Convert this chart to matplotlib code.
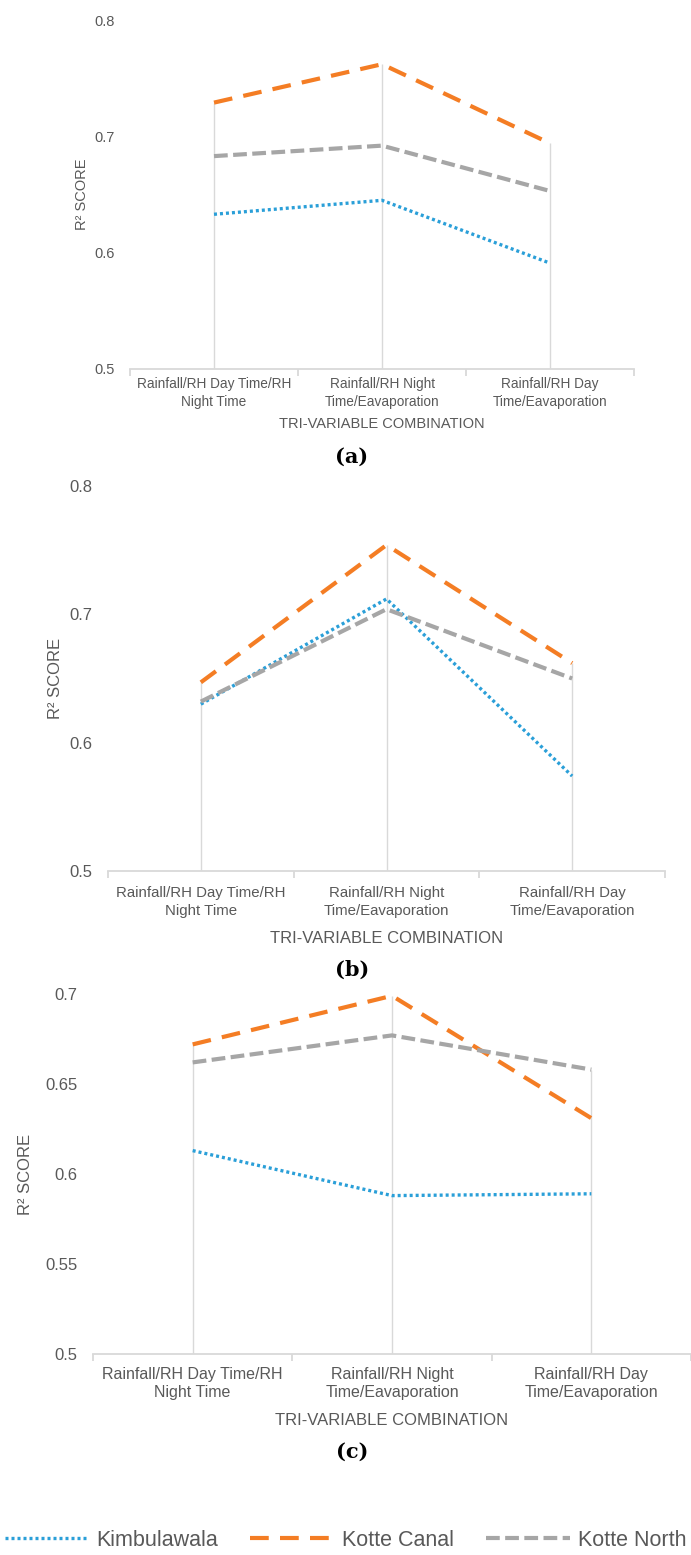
import matplotlib
matplotlib.use("Agg")
import matplotlib.pyplot as plt
import numpy as np
from matplotlib.lines import Line2D

categories = ["Rainfall/RH Day Time/RH\nNight Time",
              "Rainfall/RH Night\nTime/Eavaporation",
              "Rainfall/RH Day\nTime/Eavaporation"]
series_names = ["Kimbulawala", "Kotte Canal", "Kotte North"]

# R2 scores per panel
a_kimbulawala = [0.633, 0.645, 0.591]
a_kotte_canal = [0.729, 0.762, 0.694]
a_kotte_north = [0.683, 0.692, 0.653]

b_kimbulawala = [0.630, 0.712, 0.574]
b_kotte_canal = [0.647, 0.754, 0.662]
b_kotte_north = [0.632, 0.704, 0.650]

c_kimbulawala = [0.613, 0.588, 0.589]
c_kotte_canal = [0.672, 0.699, 0.631]
c_kotte_north = [0.662, 0.677, 0.658]

panel_labels = ["(a)", "(b)", "(c)"]
yticks_ab = [0.5, 0.6, 0.7, 0.8]
yticks_c = [0.5, 0.55, 0.6, 0.65, 0.7]

BLUE, ORANGE, GRAY = "#2a9fd8", "#f47d24", "#a6a6a6"
STYLES = [dict(color=BLUE, lw=2.4, ls=(0, (0.9, 0.9))),
          dict(color=ORANGE, lw=3.0, ls=(0, (4.5, 2.7))),
          dict(color=GRAY, lw=3.0, ls=(0, (3.3, 1.3)))]
TXT = "#595959"
GRID = "#d9d9d9"
W, H = 691, 1555


def px_axes(fig, x0, x1, y0, y1):
    return fig.add_axes([x0 / W, 1 - y1 / H, (x1 - x0) / W, (y1 - y0) / H])


def draw_panel(ax, data, yticks, fs, fs_lab, tickpad, labelpad_x, labelpad_y):
    x = np.arange(len(categories))
    ax.set_xlim(-0.5, len(categories) - 0.5)
    ax.set_ylim(yticks[0], yticks[-1])
    tops = np.max(np.array(data), axis=0)
    ax.vlines(x, yticks[0], tops, color=GRID, lw=1.0, zorder=1)
    for vals, st in zip(data, STYLES):
        ax.plot(x, vals, zorder=3, solid_capstyle="butt", dash_capstyle="butt", **st)
    for s in ["top", "right", "left"]:
        ax.spines[s].set_visible(False)
    ax.spines["bottom"].set_color(GRID)
    ax.spines["bottom"].set_linewidth(1.3)
    ax.set_xticks(x)
    ax.set_xticklabels(categories, fontsize=fs, color=TXT, linespacing=1.3)
    ax.set_xticks(np.arange(-0.5, len(categories)), minor=True)
    ax.tick_params(axis="x", which="major", length=0, pad=tickpad)
    ax.tick_params(axis="x", which="minor", length=5, color=GRID, width=1.3)
    ax.set_yticks(yticks)
    ax.set_yticklabels([f"{t:g}" for t in yticks], fontsize=fs_lab, color=TXT)
    ax.tick_params(axis="y", length=0, pad=11)
    ax.set_xlabel("TRI-VARIABLE COMBINATION", fontsize=fs_lab, color=TXT, labelpad=labelpad_x)
    ax.set_ylabel("R² SCORE", fontsize=fs_lab, color=TXT, labelpad=labelpad_y)


plt.rcParams["font.family"] = ["Liberation Sans", "DejaVu Sans"]
fig = plt.figure(figsize=(W / 100, H / 100), dpi=100)

ax_a = px_axes(fig, 130, 634, 20, 369)
draw_panel(ax_a, [a_kimbulawala, a_kotte_canal, a_kotte_north], yticks_ab, 9.8, 10.5, 6, 6, 4)
ax_b = px_axes(fig, 108, 665, 486, 871)
draw_panel(ax_b, [b_kimbulawala, b_kotte_canal, b_kotte_north], yticks_ab, 10.8, 12, 11, 10, 5)
ax_c = px_axes(fig, 93, 691, 994, 1354)
draw_panel(ax_c, [c_kimbulawala, c_kotte_canal, c_kotte_north], yticks_c, 11.5, 12, 9, 9, 9)

for lab, ypx in zip(panel_labels, [457, 970, 1452]):
    fig.text(352 / W, 1 - ypx / H, lab, ha="center", va="center",
             fontsize=15, fontweight="bold", family="DejaVu Serif")

handles = [Line2D([0], [0], **st) for st in STYLES]
fig.legend(handles, series_names, loc="center", bbox_to_anchor=(0.5, 1 - 1540 / H),
           ncol=3, frameon=False, fontsize=15.5, handlelength=3.9, columnspacing=1.5,
           handletextpad=0.35, labelcolor=TXT, borderaxespad=0, borderpad=0)

fig.savefig("out.png", dpi=100)
